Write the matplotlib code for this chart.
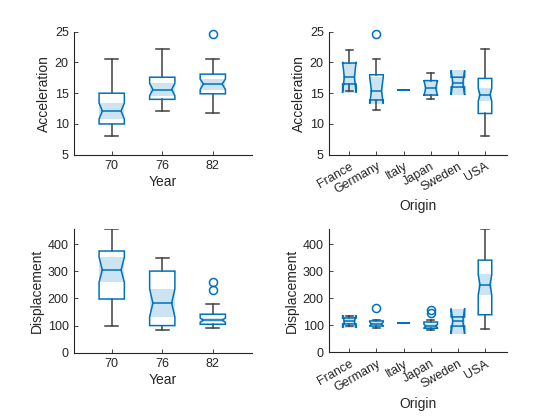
import matplotlib
matplotlib.use("Agg")
import matplotlib.pyplot as plt
from matplotlib.patches import Polygon, Rectangle

plt.rcParams['font.family'] = ['Liberation Sans', 'DejaVu Sans']

# ---------------- data (box statistics) ----------------
years = ['70', '76', '82']
origins = ['France', 'Germany', 'Italy', 'Japan', 'Sweden', 'USA']

# Acceleration by Year
acc_year_whislo = [8.0, 12.1, 11.7]
acc_year_q1 = [10.0, 14.0, 14.9]
acc_year_med = [12.1, 15.6, 16.5]
acc_year_q3 = [15.0, 17.6, 18.1]
acc_year_whishi = [20.5, 22.2, 20.6]
acc_year_nlo = [10.8, 14.6, 15.6]
acc_year_nhi = [13.4, 16.6, 17.3]
acc_year_out = [[], [], [24.6]]

# Acceleration by Origin
acc_orig_whislo = [15.4, 12.3, 15.5, 14.0, 16.0, 8.0]
acc_orig_q1 = [16.5, 13.9, 15.5, 14.7, 16.0, 11.7]
acc_orig_med = [17.6, 15.4, 15.5, 15.8, 16.7, 14.75]
acc_orig_q3 = [19.9, 18.0, 15.5, 17.05, 17.6, 17.4]
acc_orig_whishi = [22.0, 20.6, 15.5, 18.3, 17.6, 22.2]
acc_orig_nlo = [15.1, 13.3, 15.5, 14.6, 14.7, 13.7]
acc_orig_nhi = [20.1, 17.6, 15.5, 17.1, 18.7, 15.8]
acc_orig_out = [[], [24.6], [], [], [], []]

# Displacement by Year
dis_year_whislo = [97, 85, 91]
dis_year_q1 = [198, 100, 105]
dis_year_med = [305, 183, 120]
dis_year_q3 = [375, 301, 142]
dis_year_whishi = [455, 350, 181]
dis_year_nlo = [260, 132, 112]
dis_year_nhi = [352, 235, 128]
dis_year_out = [[], [], [232, 262]]

# Displacement by Origin
dis_orig_whislo = [97, 90, 107, 83, 97, 85]
dis_orig_q1 = [105, 97, 107, 89, 97, 139]
dis_orig_med = [114, 105, 107, 97, 115, 250]
dis_orig_q3 = [127, 116, 107, 112, 131, 341]
dis_orig_whishi = [133, 121, 107, 119, 131, 455]
dis_orig_nlo = [90, 98, 107, 90, 68, 212]
dis_orig_nhi = [138, 112, 107, 104, 162, 288]
dis_orig_out = [[], [165], [], [144, 156], [], []]

# ---------------- style ----------------
BLUE = '#0072BD'
FILL = '#CCE3F2'
WHISK = '#404040'
AXC = '#262626'
BOXW = 0.5
INSET = 0.13   # fraction of box width that the notch cuts in on each side
CAPW = 0.26


def boxchart(ax, labels, whislo, q1, med, q3, whishi, nlo, nhi, outs):
    for i in range(len(labels)):
        x = i + 1
        L, R = x - BOXW / 2, x + BOXW / 2
        d = INSET * BOXW
        # notch fill band
        ax.add_patch(Rectangle((L, nlo[i]), BOXW, nhi[i] - nlo[i],
                               facecolor=FILL, edgecolor='none', zorder=1))
        # whiskers
        if whishi[i] > q3[i]:
            ax.plot([x, x], [q3[i], whishi[i]], color=WHISK, lw=1.1, zorder=2)
            ax.plot([x - CAPW / 2, x + CAPW / 2], [whishi[i], whishi[i]],
                    color=WHISK, lw=1.1, zorder=2)
        if whislo[i] < q1[i]:
            ax.plot([x, x], [q1[i], whislo[i]], color=WHISK, lw=1.1, zorder=2)
            ax.plot([x - CAPW / 2, x + CAPW / 2], [whislo[i], whislo[i]],
                    color=WHISK, lw=1.1, zorder=2)
        # notched outline
        bx = [L, R, R, R - d, R, R, L, L, L + d, L, L]
        by = [q1[i], q1[i], nlo[i], med[i], nhi[i], q3[i], q3[i], nhi[i], med[i], nlo[i], q1[i]]
        ax.add_patch(Polygon(list(zip(bx, by)), closed=True, facecolor='none',
                             edgecolor=BLUE, lw=1.1, zorder=3, joinstyle='miter'))
        ax.plot([L + d, R - d], [med[i], med[i]], color=BLUE, lw=1.1, zorder=3)
        if outs[i]:
            ax.plot([x] * len(outs[i]), outs[i], 'o', mfc='none', mec=BLUE,
                    ms=5.8, mew=1.1, zorder=4, clip_on=False)
    ax.set_xticks(range(1, len(labels) + 1))


def style(ax, xlabel, ylabel, ylim, yticks, xlim, labels, rot):
    ax.set_xlim(*xlim)
    ax.set_ylim(*ylim)
    ax.set_yticks(yticks)
    if rot:
        ax.set_xticklabels(labels, rotation=30, ha='right', rotation_mode='anchor')
    else:
        ax.set_xticklabels(labels)
    ax.set_xlabel(xlabel, fontsize=10, color=AXC, labelpad=2)
    ax.set_ylabel(ylabel, fontsize=10, color=AXC, labelpad=3)
    for s in ['top', 'right']:
        ax.spines[s].set_visible(False)
    for s in ['left', 'bottom']:
        ax.spines[s].set_color(AXC)
        ax.spines[s].set_linewidth(0.8)
    ax.tick_params(direction='in', length=3, width=0.6, colors=AXC,
                   labelsize=9, pad=4)


fig = plt.figure(figsize=(5.6, 4.2), dpi=100)
ax1 = fig.add_axes([0.1327, 0.6317, 0.3168, 0.2928])
ax2 = fig.add_axes([0.588, 0.6317, 0.3168, 0.2928])
ax3 = fig.add_axes([0.1327, 0.1602, 0.3168, 0.2938])
ax4 = fig.add_axes([0.588, 0.1612, 0.3168, 0.2928])

boxchart(ax1, years, acc_year_whislo, acc_year_q1, acc_year_med, acc_year_q3,
         acc_year_whishi, acc_year_nlo, acc_year_nhi, acc_year_out)
style(ax1, 'Year', 'Acceleration', (5, 25), [5, 10, 15, 20, 25], (0.26, 3.77), years, False)

boxchart(ax2, origins, acc_orig_whislo, acc_orig_q1, acc_orig_med, acc_orig_q3,
         acc_orig_whishi, acc_orig_nlo, acc_orig_nhi, acc_orig_out)
style(ax2, 'Origin', 'Acceleration', (5, 25), [5, 10, 15, 20, 25], (0.26, 6.8), origins, True)

boxchart(ax3, years, dis_year_whislo, dis_year_q1, dis_year_med, dis_year_q3,
         dis_year_whishi, dis_year_nlo, dis_year_nhi, dis_year_out)
style(ax3, 'Year', 'Displacement', (0, 455), [0, 100, 200, 300, 400], (0.26, 3.77), years, False)

boxchart(ax4, origins, dis_orig_whislo, dis_orig_q1, dis_orig_med, dis_orig_q3,
         dis_orig_whishi, dis_orig_nlo, dis_orig_nhi, dis_orig_out)
style(ax4, 'Origin', 'Displacement', (0, 455), [0, 100, 200, 300, 400], (0.26, 6.8), origins, True)

fig.savefig('out.png', dpi=100)
